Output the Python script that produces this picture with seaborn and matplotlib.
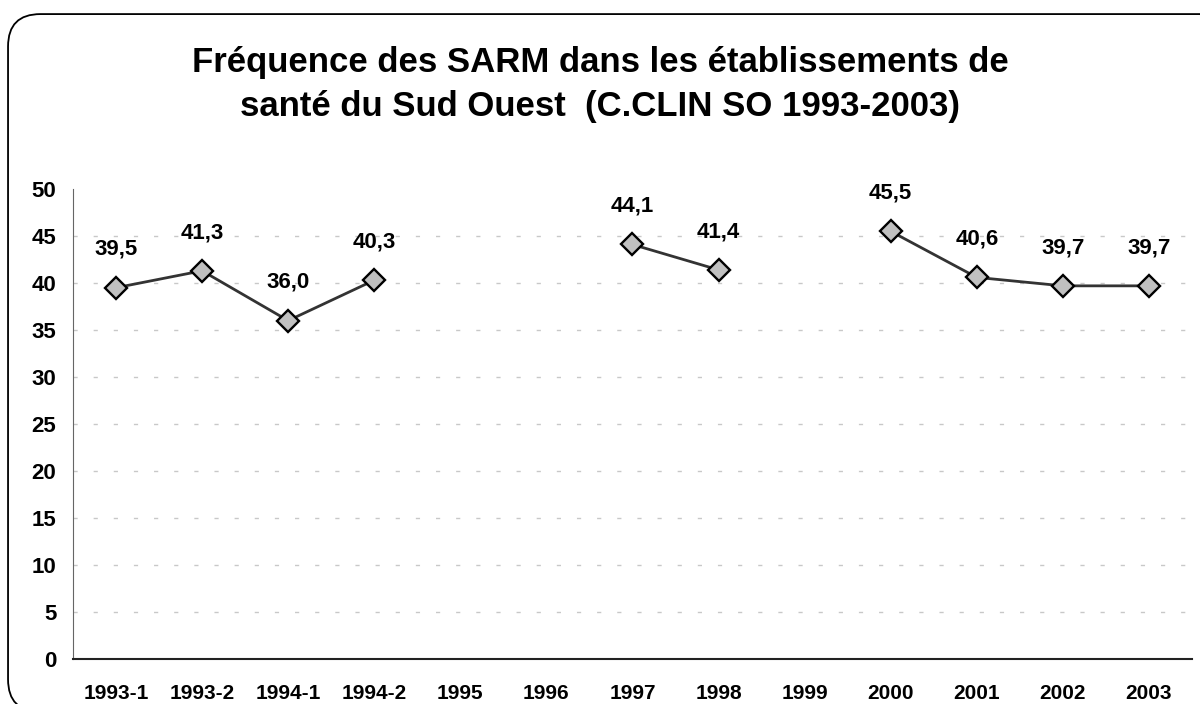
import numpy as np
import pandas as pd
import matplotlib
matplotlib.use('Agg')
import matplotlib.pyplot as plt
import seaborn as sns
from matplotlib.patches import FancyBboxPatch

periods = ['1993-1', '1993-2', '1994-1', '1994-2', '1995', '1996', '1997',
           '1998', '1999', '2000', '2001', '2002', '2003']
values = [39.5, 41.3, 36.0, 40.3, np.nan, np.nan, 44.1, 41.4, np.nan,
          45.5, 40.6, 39.7, 39.7]
title = 'Fréquence des SARM dans les établissements de\nsanté du Sud Ouest  (C.CLIN SO 1993-2003)'

sns.set_style('white')
plt.rcParams['font.family'] = ['Liberation Sans', 'DejaVu Sans']
plt.rcParams['text.color'] = 'black'
plt.rcParams['xtick.color'] = 'black'
plt.rcParams['ytick.color'] = 'black'

df = pd.DataFrame({'period': periods, 'value': values})
df['x'] = np.arange(len(df))
# split into connected segments where data is missing
df['seg'] = df['value'].isna().cumsum()
pts = df.dropna()

fig = plt.figure(figsize=(12, 7.04), dpi=100)
ax = fig.add_axes([0.0608, 0.0639, 0.9325, 0.6676])

# rounded outer frame, partly running off the right and bottom edges
frame = FancyBboxPatch((0.0067, -0.011), 1.02, 0.991, boxstyle='round,pad=0,rounding_size=0.027',
                       transform=fig.transFigure, fill=False, edgecolor='black',
                       linewidth=1.3, mutation_aspect=1200 / 704)
fig.patches.append(frame)

sns.lineplot(data=pts, x='x', y='value', units='seg', estimator=None,
             color='#333333', linewidth=2, ax=ax, marker='D', markersize=11.5,
             markerfacecolor='#c0c0c0', markeredgecolor='black', markeredgewidth=1.7)

for _, r in pts.iterrows():
    ax.annotate(f"{r['value']:.1f}".replace('.', ','), (r['x'], r['value']),
                xytext=(0, 20), textcoords='offset points', ha='center', va='bottom',
                fontsize=16, fontweight='bold')

ax.set_xlim(-0.5, len(periods) - 0.5)
ax.set_ylim(0, 50)
ax.set_yticks(range(0, 51, 5))
ax.set_xticks(df['x'])
ax.set_xticklabels(periods)
ax.set_xticks(np.arange(-0.5, len(periods), 1), minor=True)
ax.tick_params(axis='x', which='major', length=0, pad=18, labelsize=15)
ax.tick_params(axis='x', which='minor', length=7, width=1.2, color='#333333', direction='out')
ax.tick_params(axis='y', length=6, width=1.2, color='#555555', direction='out', pad=6, labelsize=16)
for lab in ax.get_xticklabels() + ax.get_yticklabels():
    lab.set_fontweight('bold')

ax.yaxis.grid(True, color='#c8c8c8', linestyle=(0, (3, 11.5)), linewidth=1)
ax.get_ygridlines()[-1].set_visible(False)
ax.get_ygridlines()[0].set_visible(False)
ax.set_axisbelow(True)

ax.spines['top'].set_visible(False)
ax.spines['right'].set_visible(False)
ax.spines['left'].set_color('#666666')
ax.spines['bottom'].set_color('#222222')
ax.spines['bottom'].set_linewidth(1.5)
ax.set_xlabel('')
ax.set_ylabel('')

fig.text(0.5, 0.88, title, ha='center', va='center', fontsize=25,
         fontweight='bold', linespacing=1.4)

fig.savefig('out.png', dpi=100)
